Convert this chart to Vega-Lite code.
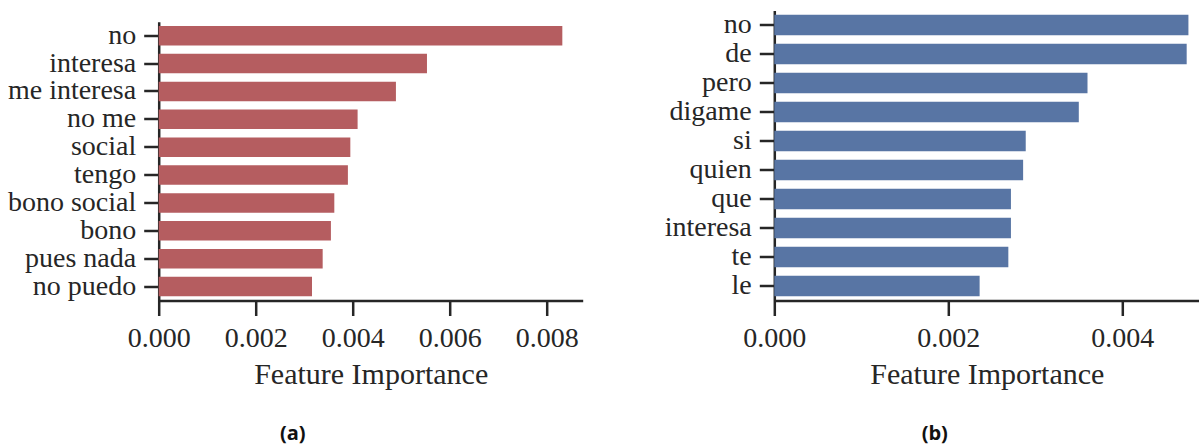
{
  "$schema": "https://vega.github.io/schema/vega-lite/v6.json",
  "autosize": {"type": "none"},
  "padding": {"left": 158.7, "top": 10.5, "right": 1040.3, "bottom": 436.5},
  "background": "white",
  "bounds": "flush",
  "spacing": 191.6,
  "config": {
    "view": {"stroke": null},
    "axis": {
      "domainColor": "#262626", "domainWidth": 2.5,
      "tickColor": "#262626", "tickWidth": 2.5, "tickSize": 15,
      "labelFont": "Liberation Serif", "labelFontSize": 28, "labelColor": "#262626",
      "labelFlush": false, "labelOverlap": false,
      "titleFont": "Liberation Serif", "titleFontSize": 30, "titleFontWeight": "normal", "titleColor": "#262626",
      "grid": false
    },
    "title": {"font": "Open Sans", "fontSize": 20, "fontWeight": "bold", "color": "#111111"}
  },
  "hconcat": [
    {
      "width": 424,
      "height": 290,
      "data": {"values": [
        {"feature": "no", "importance": 0.00832},
        {"feature": "interesa", "importance": 0.00553},
        {"feature": "me interesa", "importance": 0.00489},
        {"feature": "no me", "importance": 0.00410},
        {"feature": "social", "importance": 0.00395},
        {"feature": "tengo", "importance": 0.00390},
        {"feature": "bono social", "importance": 0.00362},
        {"feature": "bono", "importance": 0.00355},
        {"feature": "pues nada", "importance": 0.00338},
        {"feature": "no puedo", "importance": 0.00316}
      ]},
      "title": {"text": "(a)", "orient": "bottom", "anchor": "middle", "dx": -78, "offset": 34},
      "mark": {"type": "bar", "color": "#b55d60"},
      "encoding": {
        "y": {
          "field": "feature", "type": "nominal", "sort": null,
          "scale": {"range": [11.2, 290], "paddingInner": 0.3, "paddingOuter": 0.15},
          "axis": {"title": null, "labelPadding": 8}
        },
        "x": {
          "field": "importance", "type": "quantitative",
          "scale": {"domain": [0, 0.00874], "nice": false, "zero": true},
          "axis": {"values": [0, 0.002, 0.004, 0.006, 0.008], "format": ".3f", "title": "Feature Importance", "labelPadding": 9, "titlePadding": 7}
        }
      }
    },
    {
      "width": 425,
      "height": 290,
      "data": {"values": [
        {"feature": "no", "importance": 0.00476},
        {"feature": "de", "importance": 0.00474},
        {"feature": "pero", "importance": 0.00360},
        {"feature": "digame", "importance": 0.00350},
        {"feature": "si", "importance": 0.00289},
        {"feature": "quien", "importance": 0.00286},
        {"feature": "que", "importance": 0.00272},
        {"feature": "interesa", "importance": 0.00272},
        {"feature": "te", "importance": 0.00269},
        {"feature": "le", "importance": 0.00236}
      ]},
      "title": {"text": "(b)", "orient": "bottom", "anchor": "middle", "dx": -52, "offset": 34},
      "mark": {"type": "bar", "color": "#5875a4"},
      "encoding": {
        "y": {
          "field": "feature", "type": "nominal", "sort": null,
          "scale": {"paddingInner": 0.3, "paddingOuter": 0.15},
          "axis": {"title": null, "labelPadding": 8}
        },
        "x": {
          "field": "importance", "type": "quantitative",
          "scale": {"domain": [0, 0.004885], "nice": false, "zero": true},
          "axis": {"values": [0, 0.002, 0.004], "format": ".3f", "title": "Feature Importance", "labelPadding": 9, "titlePadding": 7}
        }
      }
    }
  ]
}
